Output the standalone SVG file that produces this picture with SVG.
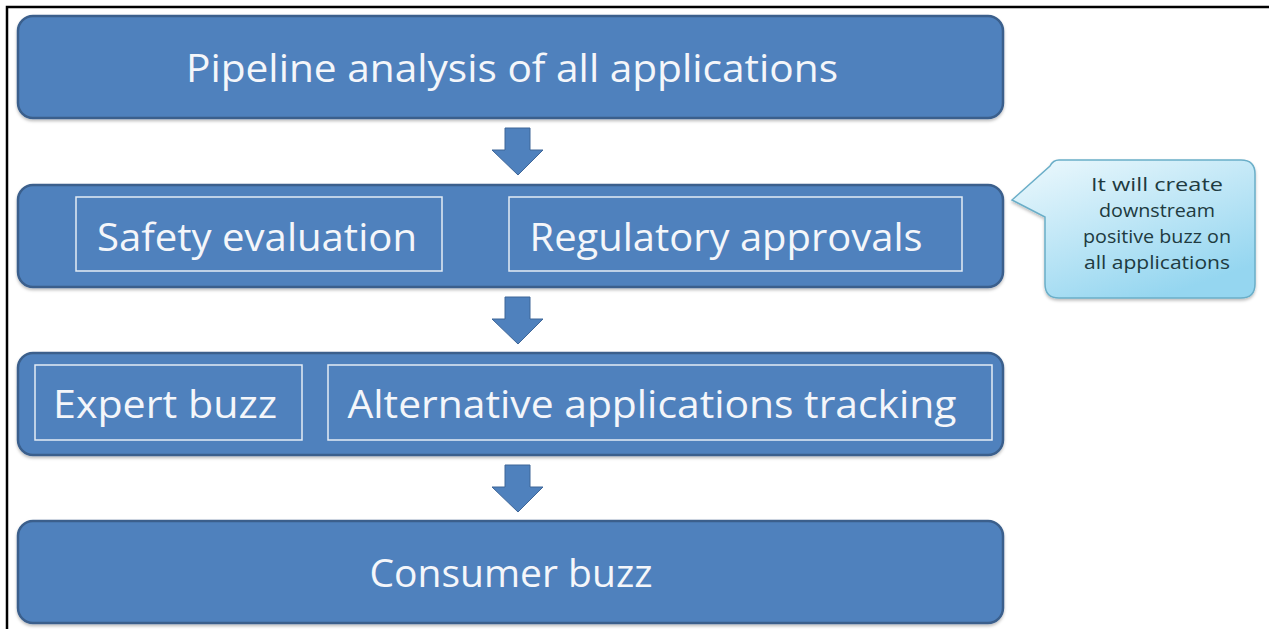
<svg xmlns="http://www.w3.org/2000/svg" width="1269" height="629" viewBox="0 0 1269 629">
  <defs>
    <linearGradient id="callGrad" x1="0" y1="0" x2="0.6" y2="1">
      <stop offset="0" stop-color="#eef9fd"/>
      <stop offset="1" stop-color="#95d6f0"/>
    </linearGradient>
    <filter id="shadow" x="-5%" y="-10%" width="110%" height="130%">
      <feDropShadow dx="0" dy="2" stdDeviation="1.5" flood-color="#000" flood-opacity="0.25"/>
    </filter>
  </defs>
  <style>
    .box { fill: #4f81bd; stroke: #3a5f8c; stroke-width: 2.5; }
    .inner { fill: none; stroke: #e4ecf5; stroke-width: 1.5; }
    .lbl { font-family: "Open Sans", "Liberation Sans", sans-serif; fill: #f4f6fa; font-size: 39px; text-anchor: middle; }
    .arrow { fill: #4f81bd; stroke: #3e6698; stroke-width: 1; }
    .call { font-family: "Open Sans", "Liberation Sans", sans-serif; fill: #203a40; font-size: 19px; text-anchor: middle; }
  </style>
  <rect width="1269" height="629" fill="#ffffff"/>
  <path d="M7 629 V7 H1269" fill="none" stroke="#000" stroke-width="2.5"/>

  <g id="node-pipeline">
    <rect class="box" x="18" y="16" width="985" height="102" rx="15" filter="url(#shadow)"/>
    <text class="lbl" x="512" y="82" textLength="652" lengthAdjust="spacingAndGlyphs">Pipeline analysis of all applications</text>
  </g>

  <g id="node-evaluation">
    <rect class="box" x="18" y="185" width="985" height="102" rx="15" filter="url(#shadow)"/>
    <rect class="inner" x="76" y="197" width="366" height="74"/>
    <text class="lbl" x="257" y="251" textLength="320" lengthAdjust="spacingAndGlyphs">Safety evaluation</text>
    <rect class="inner" x="509" y="197" width="453" height="74"/>
    <text class="lbl" x="726" y="251" textLength="393" lengthAdjust="spacingAndGlyphs">Regulatory approvals</text>
  </g>

  <g id="node-tracking">
    <rect class="box" x="18" y="353" width="985" height="102" rx="15" filter="url(#shadow)"/>
    <rect class="inner" x="35" y="365" width="267" height="75"/>
    <text class="lbl" x="165" y="418" textLength="224" lengthAdjust="spacingAndGlyphs">Expert buzz</text>
    <rect class="inner" x="328" y="365" width="664" height="75"/>
    <text class="lbl" x="652" y="418" textLength="609" lengthAdjust="spacingAndGlyphs">Alternative applications tracking</text>
  </g>

  <g id="node-consumer">
    <rect class="box" x="18" y="521" width="985" height="102" rx="15" filter="url(#shadow)"/>
    <text class="lbl" x="511" y="587" textLength="283" lengthAdjust="spacingAndGlyphs">Consumer buzz</text>
  </g>

  <g id="node-callout">
    <path d="M1059 160 H1241 Q1255 160 1255 174 V284 Q1255 298 1241 298 H1059 Q1045 298 1045 284 V217 L1012 200 L1050 166 Q1053 160 1059 160 Z" fill="url(#callGrad)" stroke="#6aaec8" stroke-width="1.5" filter="url(#shadow)"/>
    <text class="call" x="1157" y="191" textLength="132" lengthAdjust="spacingAndGlyphs">It will create</text>
    <text class="call" x="1157" y="217" textLength="116" lengthAdjust="spacingAndGlyphs">downstream</text>
    <text class="call" x="1157" y="243" textLength="148" lengthAdjust="spacingAndGlyphs">positive buzz on</text>
    <text class="call" x="1157" y="269" textLength="146" lengthAdjust="spacingAndGlyphs">all applications</text>
  </g>

  <g id="connectors">
    <path class="arrow" d="M505 128 H530 V150 H543 L518 175 L492 150 H505 Z"/>
    <path class="arrow" d="M505 297 H530 V319 H543 L518 344 L492 319 H505 Z"/>
    <path class="arrow" d="M505 465 H530 V487 H543 L518 512 L492 487 H505 Z"/>
  </g>
</svg>
